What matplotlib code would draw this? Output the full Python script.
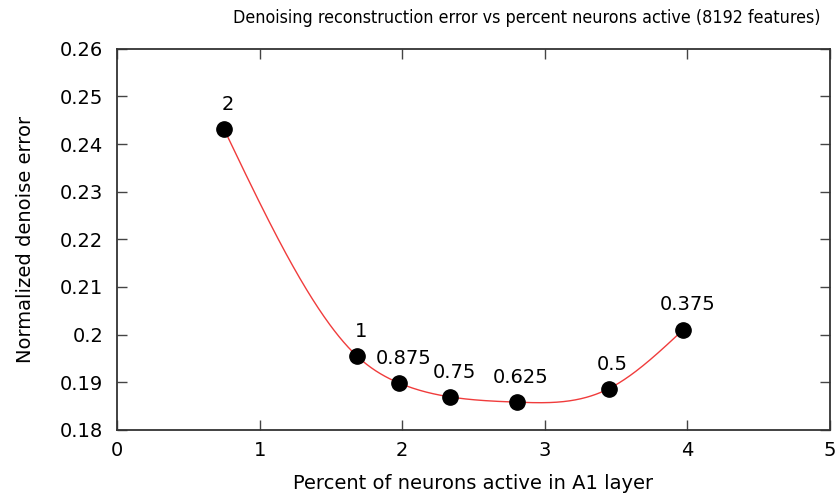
import numpy as np
import matplotlib.pyplot as plt

# percent of neurons active vs normalized denoise error, labelled by sparsity target
pct_active = [0.748, 1.685, 1.979, 2.336, 2.804, 3.448, 3.972]
denoise_err = [0.2432, 0.1954, 0.1898, 0.1869, 0.1858, 0.1886, 0.2010]
point_labels = ["2", "1", "0.875", "0.75", "0.625", "0.5", "0.375"]


def natural_spline(x, y, n=400):
	# natural cubic spline through the points (like gnuplot "smooth csplines")
	x = np.asarray(x, float)
	y = np.asarray(y, float)
	k = len(x)
	h = np.diff(x)
	A = np.zeros((k, k))
	b = np.zeros(k)
	A[0, 0] = A[-1, -1] = 1
	for i in range(1, k - 1):
		A[i, i - 1] = h[i - 1]
		A[i, i] = 2 * (h[i - 1] + h[i])
		A[i, i + 1] = h[i]
		b[i] = 6 * ((y[i + 1] - y[i]) / h[i] - (y[i] - y[i - 1]) / h[i - 1])
	M = np.linalg.solve(A, b)
	xs = np.linspace(x[0], x[-1], n)
	idx = np.clip(np.searchsorted(x, xs) - 1, 0, k - 2)
	x0, x1 = x[idx], x[idx + 1]
	hh = x1 - x0
	ys = (M[idx] * (x1 - xs) ** 3 / (6 * hh) + M[idx + 1] * (xs - x0) ** 3 / (6 * hh)
		+ (y[idx] / hh - M[idx] * hh / 6) * (x1 - xs)
		+ (y[idx + 1] / hh - M[idx + 1] * hh / 6) * (xs - x0))
	return xs, ys


plt.rcParams['font.family'] = 'DejaVu Sans'
fig = plt.figure(figsize=(8.38, 4.98), dpi=100)
ax = fig.add_axes([0.14, 0.137, 0.85, 0.765])

xs, ys = natural_spline(pct_active, denoise_err)
ax.plot(xs, ys, color='#f03c3c', lw=1.0, zorder=2)
ax.plot(pct_active, denoise_err, 'o', color='black', ms=11, zorder=3)
for x, y, s in zip(pct_active, denoise_err, point_labels):
	ax.annotate(s, (x, y), xytext=(3, 11), textcoords='offset points',
		ha='center', va='bottom', fontsize=14)

ax.set_xlim(0, 5)
ax.set_ylim(0.18, 0.26)
ax.set_xticks(range(0, 6))
ax.set_yticks(np.arange(0.18, 0.2601, 0.01))
ax.set_yticklabels(["0.18", "0.19", "0.2", "0.21", "0.22", "0.23", "0.24", "0.25", "0.26"])
ax.tick_params(direction='in', top=True, right=True, length=7, width=1, labelsize=14, pad=10, color='#444444')
ax.tick_params(axis='x', pad=8)
for sp in ax.spines.values():
	sp.set_linewidth(1.3)
	sp.set_color('#333333')

fig.text(0.629, 0.963, "Denoising reconstruction error vs percent neurons active (8192 features)",
	fontsize=12.8, fontstretch='condensed', ha='center', va='center')
ax.set_xlabel("Percent of neurons active in A1 layer", fontsize=14, labelpad=10)
ax.set_ylabel("Normalized denoise error", fontsize=14, labelpad=18)

fig.savefig("out.png", dpi=100)
